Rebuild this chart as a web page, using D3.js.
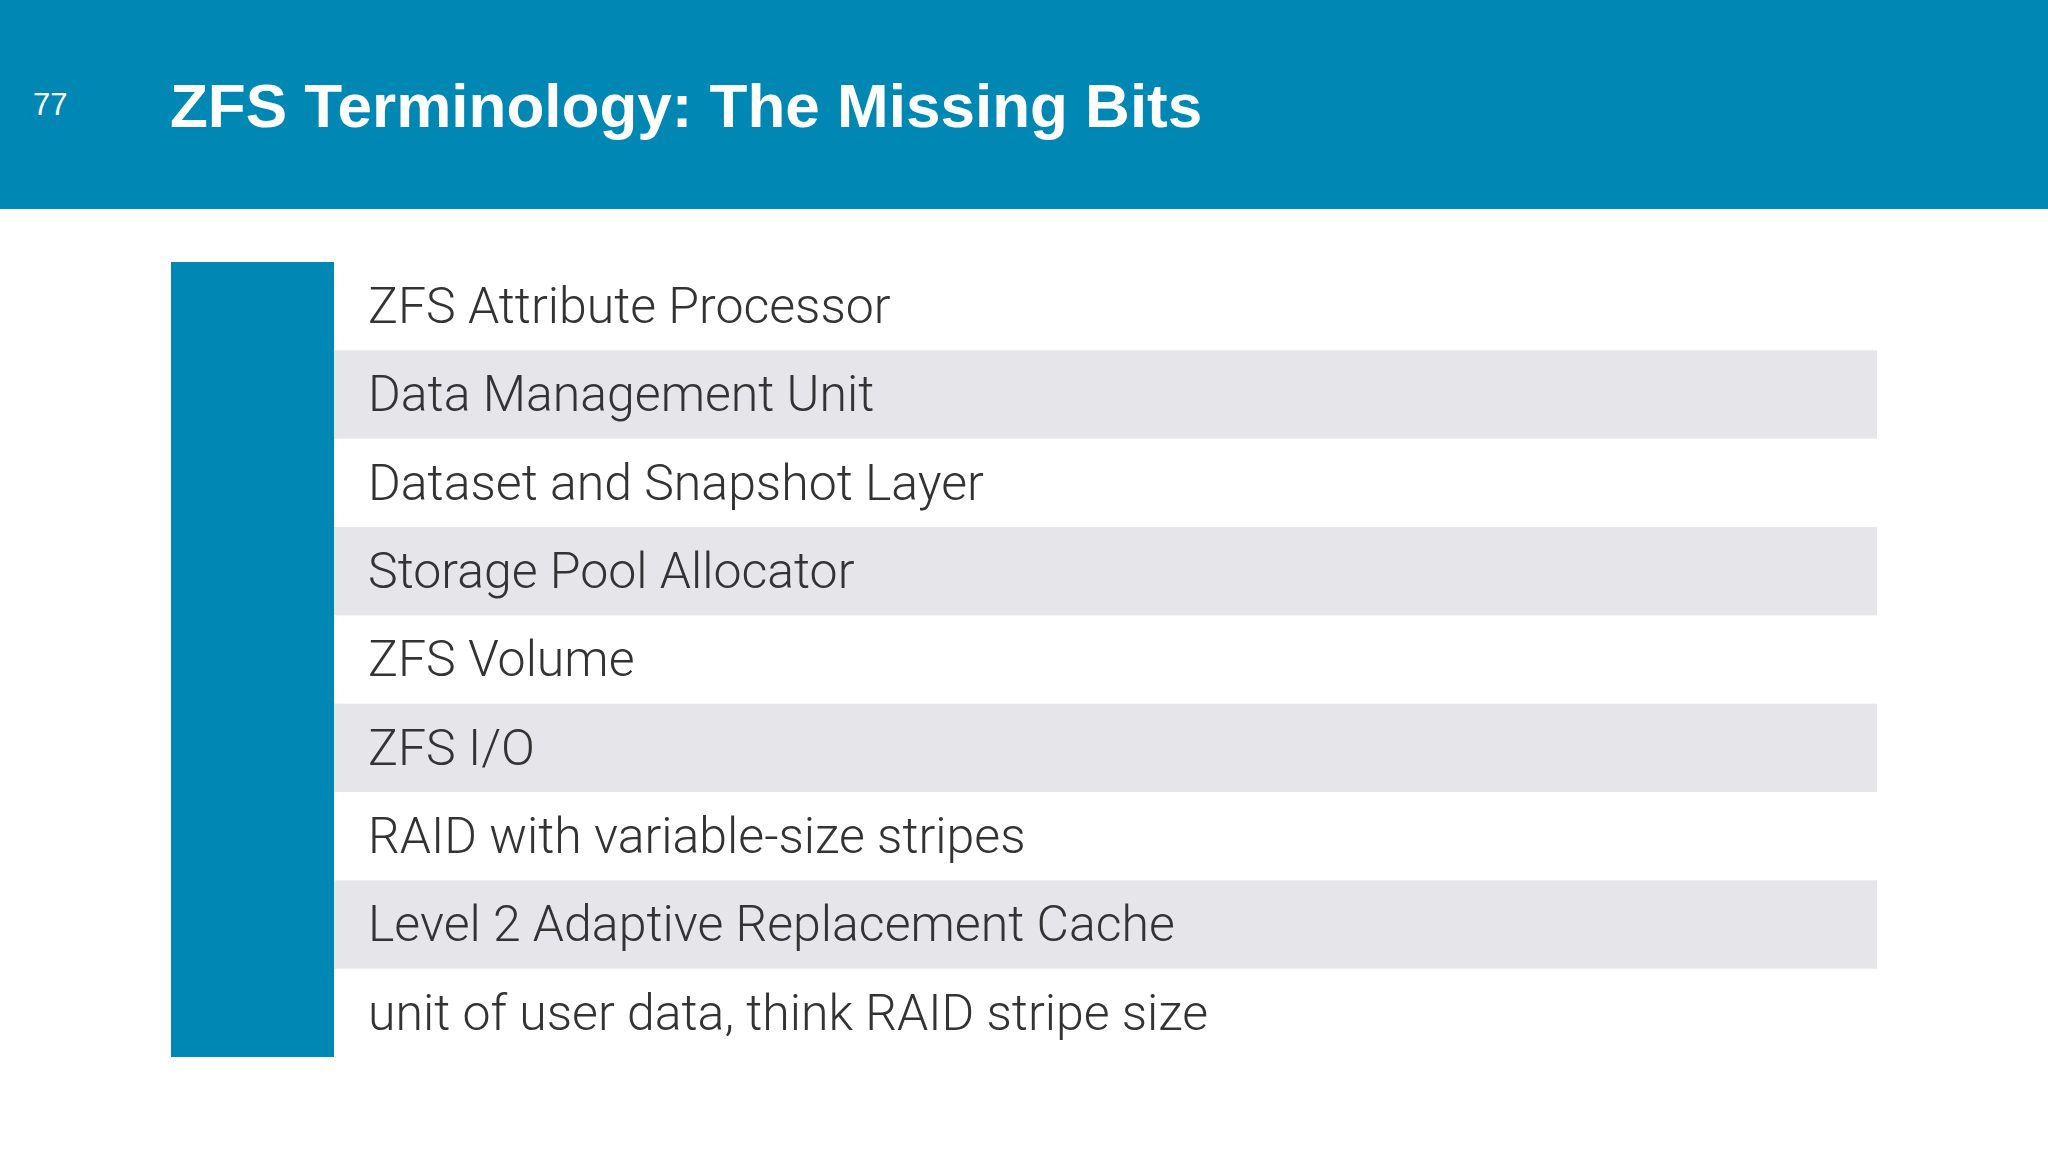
<!DOCTYPE html>
<html><head><meta charset="utf-8">
<script src="https://cdn.jsdelivr.net/npm/d3@7"></script>
<style>body{margin:0;background:#fff}</style>
</head><body>
<div id="slide"></div>
<script>
const pageNumber = '77';
const title = 'ZFS Terminology: The Missing Bits';
const terms = ['ZAP', 'DMU', 'DSL', 'SPA', 'ZVOL', 'ZIO', 'RAIDZ', 'L2ARC', 'record'];
const meanings = [
  'ZFS Attribute Processor',
  'Data Management Unit',
  'Dataset and Snapshot Layer',
  'Storage Pool Allocator',
  'ZFS Volume',
  'ZFS I/O',
  'RAID with variable-size stripes',
  'Level 2 Adaptive Replacement Cache',
  'unit of user data, think RAID stripe size'
];

const W = 2048, H = 1152;
const blue = '#0087b4';
const svg = d3.select('#slide').append('svg').attr('width', W).attr('height', H);

svg.append('rect').attr('width', W).attr('height', 209).attr('fill', blue);
svg.append('text').attr('x', 33).attr('y', 115).attr('fill', '#fff')
  .attr('font-family', 'Liberation Sans, sans-serif').attr('font-size', 31).text(pageNumber);
svg.append('text').attr('x', 170).attr('y', 127).attr('fill', '#fff')
  .attr('font-family', 'Liberation Sans, sans-serif').attr('font-weight', 'bold')
  .attr('font-size', 62).text(title);

const y = d3.scaleBand().domain(terms).range([262, 1057]);
const rows = svg.append('g').selectAll('g').data(terms).join('g')
  .attr('transform', d => `translate(0,${y(d)})`);

rows.filter((d, i) => i % 2 === 1).append('rect')
  .attr('x', 334).attr('width', 1877 - 334).attr('height', y.bandwidth()).attr('fill', '#e6e6ea');

svg.append('rect').attr('x', 171).attr('y', 262).attr('width', 163).attr('height', 1057 - 262).attr('fill', blue);

rows.append('text').attr('x', 252).attr('y', y.bandwidth() / 2 + 10)
  .attr('text-anchor', 'middle').attr('fill', '#fff')
  .attr('font-family', 'Liberation Mono, monospace').attr('font-weight', 'bold')
  .attr('font-size', 31).text(d => d);

rows.append('text').attr('x', 368).attr('y', y.bandwidth() / 2 + 17)
  .attr('fill', '#333').attr('font-family', 'Roboto, sans-serif').attr('font-weight', 300)
  .attr('font-size', 50).text((d, i) => meanings[i]);
</script>
</body></html>
